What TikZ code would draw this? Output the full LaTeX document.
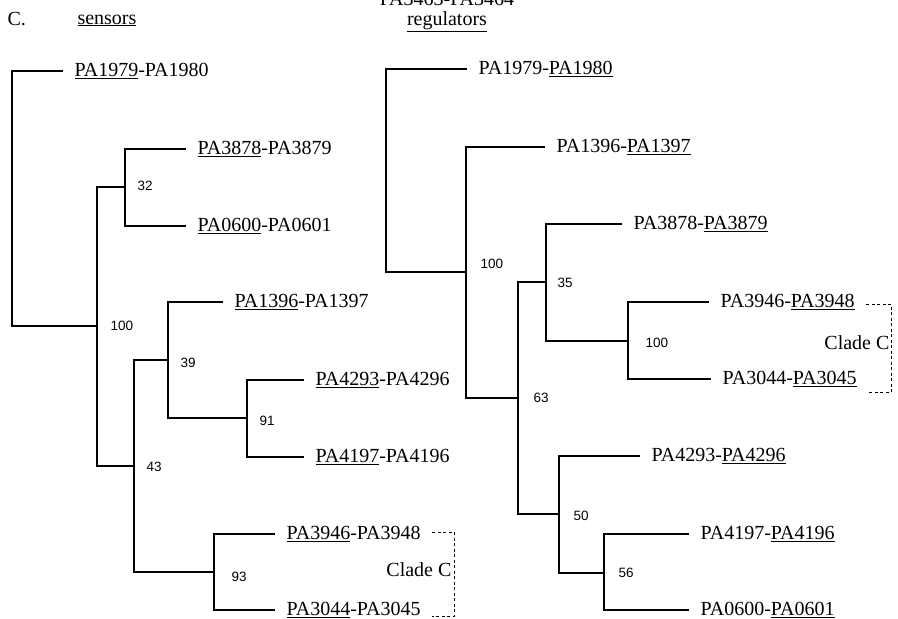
\documentclass[tikz,border=0pt]{standalone}
\usepackage{fontspec}
\setmainfont{Liberation Serif}
\newfontfamily\bootfont{Liberation Sans}
\usepackage{tikz}
\usetikzlibrary{positioning}

\begin{document}
\begin{tikzpicture}[x=1pt, y=-1pt, line width=1.1pt,
  lf/.style={anchor=west, inner xsep=11pt, inner ysep=0pt, text height=12.5pt, text depth=1.5pt, font=\fontsize{20}{24}\selectfont},
  bt/.style={inner sep=0pt, text height=9.8pt, text depth=0pt, font=\bootfont\fontsize{13.5}{16}\selectfont},
  hd/.style={anchor=base west, inner sep=0pt, font=\fontsize{20}{24}\selectfont},
  ct/.style={anchor=east, inner sep=0pt, text height=13.5pt, text depth=0.5pt, font=\fontsize{20}{24}\selectfont},
  cl/.style={line width=1pt, dash pattern=on 3pt off 2.5pt}]
\useasboundingbox[fill=white] (0,0) rectangle (898,619);

% headings
\node[hd] (lblc) at (7,25) {C.};
\node[hd] (sens) at (77,24) {\underline{sensors}};
\node[hd, anchor=base] (pair) at (447,5) {PA3463-PA3464};
\node[hd, anchor=base] (regs) at (447,25) {\underline{regulators}};

% sensors tree
\coordinate (sroot) at (12,200);
\coordinate (s100) at (97,326);
\coordinate (s32) at (125,187);
\coordinate (s43) at (134,466);
\coordinate (s39) at (168,360);
\coordinate (s91) at (247,418);
\coordinate (s93) at (214,572);
\node[lf] (s1979) at (63,71) {\underline{PA1979}-PA1980};
\node[lf] (s3878) at (186,149) {\underline{PA3878}-PA3879};
\node[lf] (s0600) at (186,226) {\underline{PA0600}-PA0601};
\node[lf] (s1396) at (223,302) {\underline{PA1396}-PA1397};
\node[lf] (s4293) at (304,380) {\underline{PA4293}-PA4296};
\node[lf] (s4197) at (304,457) {\underline{PA4197}-PA4196};
\node[lf] (s3946) at (275,534) {\underline{PA3946}-PA3948};
\node[lf] (s3044) at (275,610) {\underline{PA3044}-PA3045};
\draw (s1979.west) -| (sroot) |- (s100);
\draw (s32) -| (s100) |- (s43);
\draw (s3878.west) -| (s32) |- (s0600.west);
\draw (s39) -| (s43) |- (s93);
\draw (s1396.west) -| (s39) |- (s91);
\draw (s4293.west) -| (s91) |- (s4197.west);
\draw (s3946.west) -| (s93) |- (s3044.west);
\node[bt, right=13pt of s100] (bs100) {100};
\node[bt, right=12pt of s32, yshift=1pt] (bs32) {32};
\node[bt, right=12pt of s43, yshift=-1pt] (bs43) {43};
\node[bt, right=12pt of s39, yshift=-3pt] (bs39) {39};
\node[bt, right=12pt of s91, yshift=-3pt] (bs91) {91};
\node[bt, right=17pt of s93, yshift=-5pt] (bs93) {93};
\draw[cl] ([yshift=2pt]s3946.east) -- ++(22,0) |- ([yshift=-6pt]s3044.east);
\node[ct] (clades) at (452,570) {Clade C};

% regulators tree
\coordinate (rroot) at (386,170);
\coordinate (r100) at (466,272);
\coordinate (r63) at (518,398);
\coordinate (r35) at (546,282);
\coordinate (r100b) at (628,341);
\coordinate (r50) at (559,514);
\coordinate (r56) at (604,573);
\node[lf] (r1979) at (467,69) {PA1979-\underline{PA1980}};
\node[lf] (r1396) at (545,147) {PA1396-\underline{PA1397}};
\node[lf] (r3878) at (622,224) {PA3878-\underline{PA3879}};
\node[lf] (r3946) at (709,302) {PA3946-\underline{PA3948}};
\node[lf] (r3044) at (711,379) {PA3044-\underline{PA3045}};
\node[lf] (r4293) at (640,456) {PA4293-\underline{PA4296}};
\node[lf] (r4197) at (689,534) {PA4197-\underline{PA4196}};
\node[lf] (r0600) at (689,610) {PA0600-\underline{PA0601}};
\draw (r1979.west) -| (rroot) |- (r100);
\draw (r1396.west) -| (r100) |- (r63);
\draw (r35) -| (r63) |- (r50);
\draw (r3878.west) -| (r35) |- (r100b);
\draw (r3946.west) -| (r100b) |- (r3044.west);
\draw (r4293.west) -| (r50) |- (r56);
\draw (r4197.west) -| (r56) |- (r0600.west);
\node[bt, right=14pt of r100, yshift=8pt] (br100) {100};
\node[bt, right=11pt of r35, yshift=-1pt] (br35) {35};
\node[bt, right=17pt of r100b, yshift=-2pt] (br100b) {100};
\node[bt, right=15pt of r63] (br63) {63};
\node[bt, right=14pt of r50, yshift=-2pt] (br50) {50};
\node[bt, right=14pt of r56] (br56) {56};
\draw[cl] ([yshift=-2pt]r3946.east) -- ++(25,0) |- ([yshift=-13pt]r3044.east);
\node[ct] (clader) at (890,343) {Clade C};
\end{tikzpicture}
\end{document}
